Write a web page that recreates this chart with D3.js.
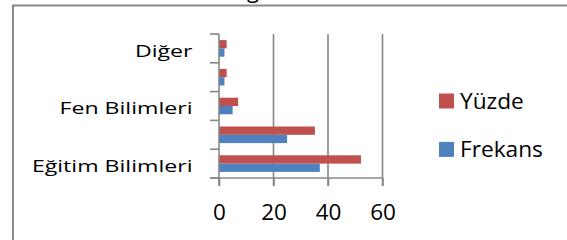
<!DOCTYPE html>
<html><head><meta charset="utf-8">
<script src="https://cdn.jsdelivr.net/npm/d3@7/dist/d3.min.js"></script>
<style>html,body{margin:0;padding:0;background:#fff;}svg{display:block;font-family:"Open Sans","Noto Sans",sans-serif;}</style>
</head><body>
<svg id="c" width="567" height="240"></svg>
<script>
const categories = ["Eğitim Bilimleri", "Sosyal Bilimler", "Fen Bilimleri", "Sağlık Bilimleri", "Diğer"];
const seriesNames = ["Yüzde", "Frekans"];
const frekans = [37, 25, 5, 2, 2];
const yuzde = [52.1, 35.2, 7.0, 2.8, 2.8];
const xTicks = [0, 20, 40, 60];
const colors = {"Yüzde": "#C0504D", "Frekans": "#4F81BD"};

const svg = d3.select("#c");
const gridColor = "#878787";
const FONT = '"Open Sans","Noto Sans",sans-serif';

// frame (partially visible chart border)
svg.append("path").attr("d", "M13,240V5.5H567").attr("fill","none").attr("stroke","#8a8a8a").attr("stroke-width",2);
// clipped title descender
svg.append("text").attr("x",247).attr("y",-2).attr("font-size",22).attr("fill","#000").text("g");

const x = d3.scaleLinear().domain([0,60]).range([219,382.5]);
const y = d3.scaleBand().domain(categories.slice().reverse()).range([34,178]).paddingInner(0).paddingOuter(0);
const ys = d3.scaleBand().domain(seriesNames).range([0,y.bandwidth()]).paddingInner(0).paddingOuter(0.735);

// gridlines
svg.append("g").selectAll("line").data(xTicks.filter(d=>d>0)).join("line")
  .attr("x1",d=>x(d)).attr("x2",d=>x(d)).attr("y1",34).attr("y2",186)
  .attr("stroke",gridColor).attr("stroke-width",1.6);

const rows = categories.map((c,i)=>({cat:c, vals:[{s:"Yüzde",v:yuzde[i]},{s:"Frekans",v:frekans[i]}]}));
const g = svg.append("g").selectAll("g").data(rows).join("g").attr("transform",d=>`translate(0,${y(d.cat)})`);
g.selectAll("rect").data(d=>d.vals).join("rect")
  .attr("x",x(0)).attr("y",d=>ys(d.s)).attr("width",d=>x(d.v)-x(0)).attr("height",ys.bandwidth())
  .attr("fill",d=>colors[d.s]);

// x axis
const xAxis = d3.axisBottom(x).tickValues(xTicks).tickSize(8).tickPadding(10).tickFormat(d3.format("d"));
const xa = svg.append("g").attr("transform","translate(0,178)").call(xAxis);
xa.select(".domain").attr("d","M210,0H"+x(60)).attr("stroke",gridColor).attr("stroke-width",1.6);
xa.selectAll(".tick line").attr("stroke",gridColor).attr("stroke-width",1.6);
xa.selectAll(".tick text").attr("font-size",22.5).attr("font-family",FONT).attr("fill","#000").attr("dy",null).attr("y",42);

// y axis
const yAxis = d3.axisLeft(y).tickSize(0).tickFormat((d,i)=> i%2===0 ? d : "");
const ya = svg.append("g").attr("transform","translate(219,0)").call(yAxis);
ya.select(".domain").attr("d","M0,34V186").attr("stroke",gridColor).attr("stroke-width",1.6);
ya.selectAll(".tick text").attr("x",0).attr("dy",null).attr("y",0)
  .attr("transform","translate(-26.5,8.4) scale(1.36,1)")
  .attr("font-size",17).attr("font-family",FONT).attr("fill","#000");
// category boundary ticks
const bounds = categories.map(c=>y(c)).concat([y.range()[1]]);
ya.append("g").selectAll("line").data(bounds).join("line")
  .attr("x1",-9).attr("x2",0).attr("y1",d=>d).attr("y2",d=>d)
  .attr("stroke",gridColor).attr("stroke-width",1.6);

// legend
const lg = svg.append("g").selectAll("g").data(seriesNames).join("g")
  .attr("transform",(d,i)=>`translate(439,${93.5+i*48.4})`);
lg.append("rect").attr("width",15).attr("height",15).attr("fill",d=>colors[d]);
lg.append("text").attr("transform","translate(21,15) scale(1.08,1)").attr("font-size",21).attr("fill","#000").text(d=>d);
</script>
</body></html>
